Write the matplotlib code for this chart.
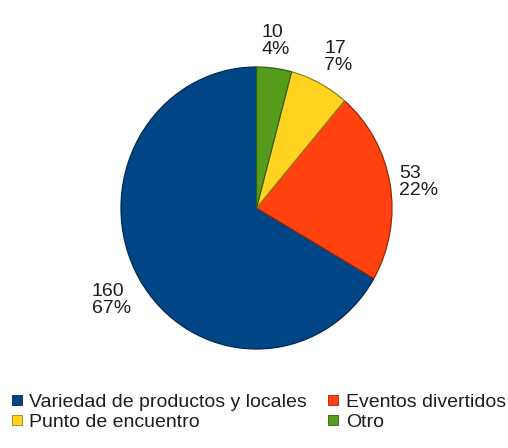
import numpy as np
import matplotlib
matplotlib.use("Agg")
import matplotlib.pyplot as plt
from matplotlib.lines import Line2D
from matplotlib.colors import to_rgb

plt.rcParams['font.family'] = ['Liberation Sans', 'DejaVu Sans']

categories = ['Variedad de productos y locales', 'Eventos divertidos',
              'Punto de encuentro', 'Otro']
counts = [160, 53, 17, 10]
colors = ['#004586', '#ff420e', '#ffd320', '#579d1c']

W, H = 508, 448
fig = plt.figure(figsize=(W / 100, H / 100), dpi=100)
ax = fig.add_axes([0, 0, 1, 1])

# pie centre and radii in pixels (slightly taller than wide)
cx, cy = 256.5, 208
rx, ry = 135.5, 141


def darker(c, f=0.6):
    return tuple(f * np.array(to_rgb(c)))


wedges, _ = ax.pie(counts, colors=colors, startangle=90, counterclock=True,
                   radius=1, center=(0, 0), frame=True,
                   wedgeprops=dict(linewidth=0.9))
for w, c in zip(wedges, colors):
    w.set_edgecolor(darker(c))

ax.set_aspect('auto')
ax.set_xlim(-cx / rx, (W - cx) / rx)
ax.set_ylim(-(H - cy) / ry, cy / ry)
ax.axis('off')

total = sum(counts)
for w, v in zip(wedges, counts):
    mid = np.deg2rad((w.theta1 + w.theta2) / 2)
    c, s = np.cos(mid), np.sin(mid)
    ha = 'left' if c > 0.35 else 'right' if c < -0.35 else 'center'
    va = 'bottom' if s > 0.35 else 'top' if s < -0.35 else 'center'
    d = 1.07
    ax.text(d * c, d * s, f'{v}\n{round(100 * v / total)}%', ha=ha, va=va,
            multialignment='left', fontsize=14, color='#1e1e1e',
            linespacing=1.0)

handles = [Line2D([], [], marker='s', linestyle='none', markersize=7,
                  markerfacecolor=c, markeredgecolor=darker(c),
                  markeredgewidth=0.6)
           for c in colors]
# legend fills column by column, so reorder to read row by row
order = [0, 2, 1, 3]
fig.legend([handles[i] for i in order], [categories[i] for i in order],
           ncol=2, loc='upper left',
           bbox_to_anchor=(10 / W, 1 - 393 / H), frameon=False,
           fontsize=14, labelcolor='#1e1e1e', handlelength=0.7,
           handletextpad=0.3, columnspacing=1.0, labelspacing=0.15,
           borderpad=0, borderaxespad=0)

fig.savefig('out.png', dpi=100)
